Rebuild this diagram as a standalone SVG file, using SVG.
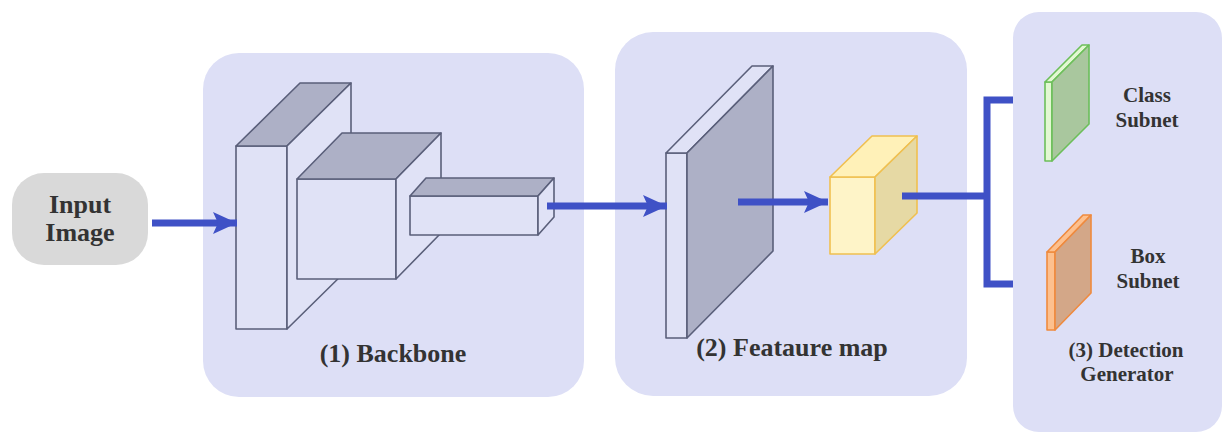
<svg xmlns="http://www.w3.org/2000/svg" width="1225" height="435" viewBox="0 0 1225 435">
  <defs>
    <marker id="arrowhead" markerUnits="userSpaceOnUse" markerWidth="26" markerHeight="24" refX="24" refY="11" orient="auto">
      <path d="M0,0 L24,11 L0,22 L5,11 Z" fill="#3f51c6"/>
    </marker>
  </defs>
  <style>
    .panel { fill: #dddff6; }
    .lbl { font-family: "Liberation Serif", serif; font-weight: bold; fill: #333333; text-anchor: middle; }
    .big { font-size: 26px; }
    .small { font-size: 21px; }
    .face { fill: #e0e2f6; stroke: #5a5f7a; stroke-width: 1.6; stroke-linejoin: round; }
    .shade { fill: #adb0c6; stroke: #5a5f7a; stroke-width: 1.6; stroke-linejoin: round; }
    .yel-front { fill: #fef4c8; stroke: #f0c050; stroke-width: 1.6; stroke-linejoin: round; }
    .yel-top { fill: #fff1b8; stroke: #f0c050; stroke-width: 1.6; stroke-linejoin: round; }
    .yel-side { fill: #e6d9a4; stroke: #f0c050; stroke-width: 1.6; stroke-linejoin: round; }
    .grn-light { fill: #e2f8d2; stroke: #6cbf5a; stroke-width: 1.6; stroke-linejoin: round; }
    .grn-side { fill: #a9c79e; stroke: #6cbf5a; stroke-width: 1.6; stroke-linejoin: round; }
    .org-light { fill: #fdc08e; stroke: #ef8a3e; stroke-width: 1.6; stroke-linejoin: round; }
    .org-side { fill: #d3a788; stroke: #ef8a3e; stroke-width: 1.6; stroke-linejoin: round; }
    .wire { stroke: #3f51c6; stroke-width: 7; fill: none; }
  </style>

  <!-- background panels -->
  <rect x="0" y="0" width="1225" height="435" fill="#ffffff"/>
  <g id="panel-backbone"><rect class="panel" x="203" y="53" width="381" height="344" rx="36"/></g>
  <g id="panel-feature"><rect class="panel" x="615" y="32" width="352" height="364" rx="38"/></g>
  <g id="panel-detection"><rect class="panel" x="1013" y="12" width="209" height="420" rx="26"/></g>

  <!-- input node -->
  <g id="input-image">
    <rect x="12" y="173" width="136" height="92" rx="32" fill="#d9d9d9"/>
    <text class="lbl big" x="80" y="213">Input</text>
    <text class="lbl big" x="80" y="241">Image</text>
  </g>

  <!-- backbone: three stacked blocks -->
  <g id="backbone">
    <g id="block-1">
      <rect class="face" x="236" y="146" width="51" height="183"/>
      <polygon class="shade" points="236,146 300,83 351,83 287,146"/>
      <polygon class="face" points="287,146 351,83 351,266 287,329"/>
    </g>
    <g id="block-2">
      <rect class="face" x="297" y="179" width="99" height="100"/>
      <polygon class="shade" points="297,179 342,133 441,133 396,179"/>
      <polygon class="face" points="396,179 441,133 441,233 396,279"/>
    </g>
    <g id="block-3">
      <rect class="face" x="410" y="196" width="128" height="39"/>
      <polygon class="shade" points="410,196 426,178 554,178 538,196"/>
      <polygon class="face" points="538,196 554,178 554,217 538,235"/>
    </g>
    <text class="lbl big" x="393" y="362">(1) Backbone</text>
  </g>

  <!-- feature map -->
  <g id="feature-map">
    <g id="feature-slab">
      <rect class="face" x="666" y="153" width="21" height="185"/>
      <polygon class="face" points="666,153 752,66 773,66 687,153"/>
      <polygon class="shade" points="687,153 773,66 773,251 687,338"/>
    </g>
    <g id="feature-cube">
      <rect class="yel-front" x="830" y="177" width="45" height="77"/>
      <polygon class="yel-top" points="830,177 872,136 917,136 875,177"/>
      <polygon class="yel-side" points="875,177 917,136 917,213 875,254"/>
    </g>
    <text class="lbl big" x="792" y="356">(2) Feataure map</text>
  </g>

  <!-- detection generator -->
  <g id="detection-generator">
    <g id="class-subnet">
      <rect class="grn-light" x="1045" y="82" width="7" height="79"/>
      <polygon class="grn-light" points="1045,82 1082,45 1089,45 1052,82"/>
      <polygon class="grn-side" points="1052,82 1089,45 1089,124 1052,161"/>
      <text class="lbl small" x="1147" y="102">Class</text>
      <text class="lbl small" x="1147" y="127">Subnet</text>
    </g>
    <g id="box-subnet">
      <rect class="org-light" x="1047" y="252" width="8" height="78"/>
      <polygon class="org-light" points="1047,252 1083,215 1091,215 1055,252"/>
      <polygon class="org-side" points="1055,252 1091,215 1091,293 1055,330"/>
      <text class="lbl small" x="1148" y="263">Box</text>
      <text class="lbl small" x="1148" y="288">Subnet</text>
    </g>
    <text class="lbl small" x="1126" y="357">(3) Detection</text>
    <text class="lbl small" x="1127" y="381">Generator</text>
  </g>

  <!-- connectors -->
  <g id="connectors">
    <line class="wire" x1="152" y1="223" x2="237" y2="223" marker-end="url(#arrowhead)"/>
    <line class="wire" x1="547" y1="206" x2="667" y2="206" marker-end="url(#arrowhead)"/>
    <line class="wire" x1="738" y1="202" x2="828" y2="202" marker-end="url(#arrowhead)"/>
    <line class="wire" x1="902" y1="196" x2="987" y2="196"/>
    <path class="wire" d="M1013,100 H987 V284 H1013" stroke-width="8"/>
  </g>
</svg>
